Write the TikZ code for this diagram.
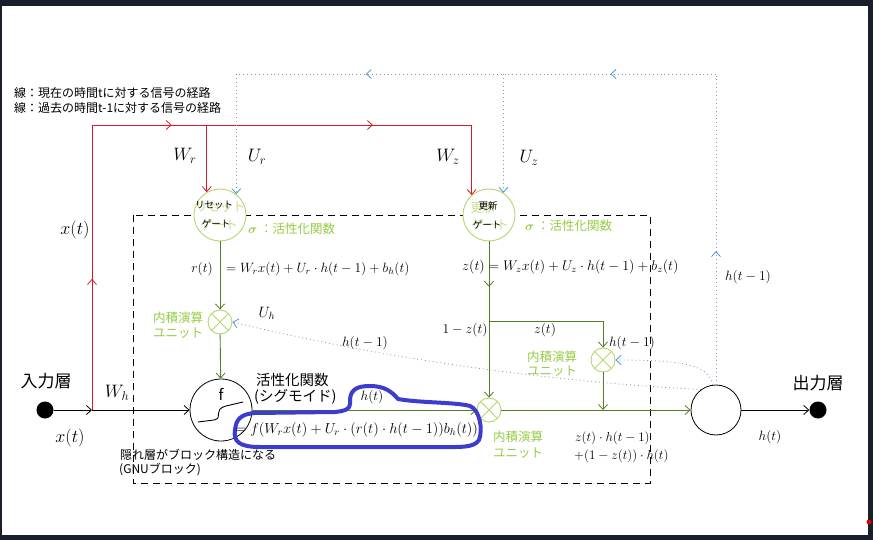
\RequirePackage{fix-cm}
\documentclass[tikz,border=0pt]{standalone}
\usepackage{amsmath}
\usepackage{fontspec}
\newfontfamily\jp{Noto Sans CJK JP}
\usetikzlibrary{arrows.meta,decorations.markings}
\definecolor{redline}{RGB}{215,25,45}
\definecolor{gline}{RGB}{85,125,40}
\definecolor{gcirc}{RGB}{180,215,110}
\definecolor{glabel}{RGB}{150,205,70}
\definecolor{ghost}{RGB}{195,225,140}
\definecolor{dotc}{RGB}{140,150,195}
\definecolor{blutip}{RGB}{80,150,220}
\definecolor{marker}{RGB}{60,60,205}
\definecolor{framec}{RGB}{25,30,42}
\tikzset{
  barb/.tip={Straight Barb[length=5pt,width=9pt,line width=0.8pt]},
  bbarb/.tip={Straight Barb[length=5pt,width=9pt,line width=0.8pt,color=blutip]},
  tipend/.style={-barb},
  btipend/.style={-bbarb},
  midtip/.style={postaction={decorate,decoration={markings,mark=at position #1 with {\arrow{barb}}}}},
  bmidtip/.style={postaction={decorate,decoration={markings,mark=at position #1 with {\arrow{bbarb}}}}},
  blk/.style={draw=black,line width=0.8pt},
  rl/.style={draw=redline,line width=0.9pt},
  gl/.style={draw=gline,line width=0.9pt},
  dl/.style={draw=dotc,line width=0.8pt,dash pattern=on 0.9pt off 3pt},
  gate/.style={circle,draw=gcirc,line width=0.9pt,fill=white,minimum size=52pt,inner sep=0pt},
  mul/.style={circle,draw=gcirc,line width=0.9pt,fill=white,minimum size=24pt,inner sep=0pt,
     path picture={\draw[gcirc,line width=0.9pt] (path picture bounding box.north west)--(path picture bounding box.south east)
       (path picture bounding box.north east)--(path picture bounding box.south west);}},
  bigc/.style={circle,draw=black,line width=0.8pt,fill=white,inner sep=0pt},
  dotn/.style={circle,fill=black,minimum size=17pt,inner sep=0pt},
  mlab/.style={font=\fontsize{13.5}{15}\selectfont,inner sep=0pt},
  biglab/.style={font=\fontsize{18}{20}\selectfont,inner sep=0pt},
  jlab/.style={font=\jp\fontsize{12}{14}\selectfont,inner sep=0pt},
  glab/.style={font=\jp\fontsize{12.5}{14}\selectfont,text=glabel,inner sep=0pt},
}
\begin{document}
\begin{tikzpicture}[x=1pt,y=-1pt]
% screenshot frame
\fill[framec] (0,0) rectangle (873,540);
\fill[white] (2,6) rectangle (868,535);
\useasboundingbox (0,0) rectangle (873,540);
\fill[red!90!black] (869,522) circle (2.5pt);

% legend
\node[jlab,anchor=west] (leg1) at (14,93) {線：現在の時間tに対する信号の経路};
\node[jlab,anchor=west] (leg2) at (14,108) {線：過去の時間t-1に対する信号の経路};

% dashed block
\draw[black,line width=0.9pt,dash pattern=on 7pt off 5pt] (133,215) rectangle (650,483);

% nodes
\node[dotn] (in) at (45,410) {};
\coordinate (j) at (92,410);
\node[bigc,minimum size=62pt] (f) at (221,410) {};
\node[gate] (rg) at (220,215) {};
\node[gate] (zg) at (489,215) {};
\node[mul] (mr) at (220,322) {};
\node[mul] (mz) at (603,360) {};
\node[mul] (mo) at (489,410) {};
\node[bigc,minimum size=50pt] (o) at (716,410) {};
\node[dotn] (out) at (818,410) {};

% gate texts (ghost + black)
\node[font=\jp\fontsize{12.5}{14}\selectfont,text=ghost,inner sep=0pt] (rgg1) at (220,207) {リセット};
\node[font=\jp\fontsize{12.5}{14}\selectfont,text=ghost,inner sep=0pt] (rgg2) at (219,225) {ゲート};
\node[font=\jp\fontsize{9.5}{11}\selectfont,inner sep=0pt] (rgt1) at (214,205) {リセット};
\node[font=\jp\fontsize{9.5}{11}\selectfont,inner sep=0pt] (rgt2) at (216,224) {ゲート};
\node[font=\jp\fontsize{12.5}{14}\selectfont,text=ghost,inner sep=0pt] (zgg1) at (483,208) {更新};
\node[font=\jp\fontsize{12.5}{14}\selectfont,text=ghost,inner sep=0pt] (zgg2) at (490,225) {ゲート};
\node[font=\jp\fontsize{9.5}{11}\selectfont,inner sep=0pt] (zgt1) at (488,206) {更新};
\node[font=\jp\fontsize{9.5}{11}\selectfont,inner sep=0pt] (zgt2) at (487,225) {ゲート};

% f node content
\node[font=\jp\fontsize{15}{16}\selectfont,inner sep=0pt] (fl) at (221,394) {f};
\draw[black,line width=0.9pt] (198,422) -- (214,420) .. controls (224,418) and (212,410) .. (226,406) -- (243,402);

% black input/output paths
\draw[blk,tipend] (in) -- (j);
\draw[blk,tipend] (j) -- (f);
\draw[blk,tipend] (o) -- (out);

% red paths
\coordinate (rtl) at (92,125);
\coordinate (rb) at (rg.120 |- rtl);
\coordinate (rtr) at (zg.131 |- rtl);
\draw[rl,midtip=0.46] (j) -- (rtl);
\draw[rl,midtip=0.21,midtip=0.74] (rtl) -- (rtr);
\draw[rl,tipend] (rtr) -- (zg.131);
\draw[rl,tipend] (rb) -- (rg.120);

% dotted feedback paths
\coordinate (dr) at (o.north |- 0,74);
\coordinate (dl) at (rg.52 |- dr);
\coordinate (dm) at (zg.57 |- dr);
\draw[dl,bmidtip=0.43] (o.north) -- (dr);
\draw[dl,bmidtip=0.22,bmidtip=0.73] (dr) -- (dl);
\draw[dl,btipend] (dl) -- (rg.52);
\draw[dl,btipend] (dm) -- (zg.57);
\draw[dl,btipend] (o.126) .. controls (550,382) and (380,358) .. (mr.east);
\draw[dl,btipend] (o.97) .. controls (708,366) and (690,360) .. (mz.east);

% green paths
\coordinate (zb) at (zg |- 0,321);
\coordinate (zbr) at (mz |- zb);
\coordinate (mzj) at (mz |- o);
\draw[gl,tipend] (rg) -- (mr);
\draw[gl,tipend] (mr) -- (f);
\draw[gl,midtip=0.57] (zg) -- (zb);
\draw[gl,tipend] (zb) -- (mo);
\draw[gl,tipend] (zb) -- (zbr) -- (mz);
\draw[gl,tipend] (mz) -- (mzj);
\draw[gl,tipend] (f) -- (mo);
\draw[gl,tipend] (mo) -- (o);

% blue marker loop
\draw[marker,line width=4pt,line join=round,line cap=round]
  (350,404) .. controls (349,390) and (356,386) .. (370,386)
  .. controls (385,386) and (392,392) .. (398,399)
  .. controls (420,403) and (455,402) .. (470,406)
  .. controls (480,410) and (483,430) .. (479,440)
  .. controls (474,448) and (460,447) .. (440,447)
  -- (260,447)
  .. controls (240,447) and (233,442) .. (235,430)
  .. controls (236,420) and (240,414) .. (255,413)
  -- (335,412)
  .. controls (345,411) and (350,409) .. (350,404);

% labels
\node[font=\jp\fontsize{17}{19}\selectfont,inner sep=0pt] (inl) at (46,381) {入力層};
\node[font=\jp\fontsize{17}{19}\selectfont,inner sep=0pt] (outl) at (818,383) {出力層};
\node[font=\fontsize{18}{20}\selectfont,inner sep=0pt] (xt1) at (70,438) {$x(t)$};
\node[font=\fontsize{18}{20}\selectfont,inner sep=0pt] (xt2) at (75,230) {$x(t)$};
\node[biglab] (wh) at (117,393) {$W_h$};
\node[biglab] (wr) at (185,156) {$W_r$};
\node[biglab] (ur) at (257,157) {$U_r$};
\node[biglab] (wz) at (448,157) {$W_z$};
\node[biglab] (uz) at (529,158) {$U_z$};
\node[font=\fontsize{15}{17}\selectfont,inner sep=0pt] (uh) at (267,313) {$U_h$};

\node[glab,anchor=west] (sig1) at (248,229) {$\boldsymbol{\sigma}$ ：活性化関数};
\node[glab,anchor=west] (sig2) at (525,226) {$\boldsymbol{\sigma}$ ：活性化関数};

\node[mlab] (rt) at (202,269) {$r(t)$};
\node[mlab,anchor=west] (req) at (226,269) {$= W_r x(t) + U_r\cdot h(t-1) + b_h(t)$};
\node[font=\fontsize{14}{16}\selectfont,inner sep=0pt,anchor=west] (zeq) at (462,267) {$z(t) = W_z x(t) + U_z\cdot h(t-1) + b_z(t)$};

\node[glab] (mrl1) at (178,318) {内積演算};
\node[glab] (mrl2) at (178,333) {ユニット};
\node[glab] (mzl1) at (552,357) {内積演算};
\node[glab] (mzl2) at (552,371) {ユニット};
\node[glab] (mol1) at (518,437) {内積演算};
\node[glab] (mol2) at (518,453) {ユニット};

\node[mlab] (ht1a) at (365,343) {$h(t-1)$};
\node[mlab] (omz) at (465,330) {$1-z(t)$};
\node[mlab] (zt) at (545,330) {$z(t)$};
\node[mlab] (ht1b) at (632,343) {$h(t-1)$};
\node[mlab] (ht1c) at (748,277) {$h(t-1)$};

\node[font=\jp\fontsize{14.5}{16}\selectfont,inner sep=0pt,anchor=west] (act1) at (256,380) {活性化関数};
\node[font=\jp\fontsize{14.5}{16}\selectfont,inner sep=0pt,anchor=west] (act2) at (254,397) {(シグモイド)};
\node[mlab] (hta) at (372,397) {$h(t)$};
\node[font=\fontsize{14.5}{16}\selectfont,inner sep=0pt,anchor=west] (feq) at (235,430) {$= f(W_r x(t) + U_r\cdot (r(t)\cdot h(t-1))b_h(t))$};

\node[jlab,anchor=west] (hid1) at (120,455) {隠れ層がブロック構造になる};
\node[jlab,anchor=west] (hid2) at (119,470) {(GNUブロック)};

\node[font=\fontsize{13}{14}\selectfont,inner sep=0pt,anchor=west] (upd1) at (575,438) {$z(t)\cdot h(t-1)$};
\node[font=\fontsize{13}{14}\selectfont,inner sep=0pt,anchor=west] (upd2) at (574,456) {$+(1-z(t))\cdot h(t)$};
\node[mlab] (hto) at (770,437) {$h(t)$};
\end{tikzpicture}
\end{document}
